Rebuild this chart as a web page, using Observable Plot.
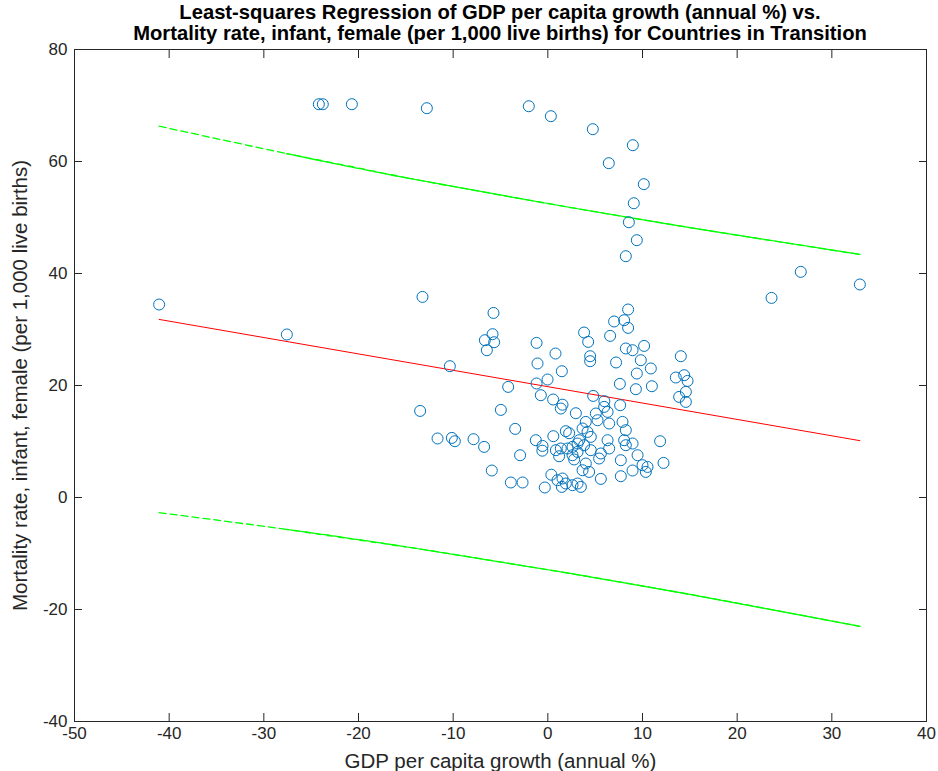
<!DOCTYPE html>
<html>
<head>
<meta charset="utf-8">
<script src="https://cdn.jsdelivr.net/npm/d3@7"></script>
<script src="https://cdn.jsdelivr.net/npm/@observablehq/plot@0.6"></script>
<style>
  body { margin: 0; background: #fff; font-family: "Liberation Sans", Arial, sans-serif; }
  #title { width: 938px; height: 40px; box-sizing: border-box; padding: 2px 12px 0 74px;
           text-align: center; font-weight: bold; font-size: 20.2px; line-height: 21px; color: #000; white-space: nowrap; }
  #chart { position: relative; }
</style>
</head>
<body>
<div id="title">Least-squares Regression of GDP per capita growth (annual %) vs.<br>Mortality rate, infant, female (per 1,000 live births) for Countries in Transition</div>
<div id="chart"></div>
<script>
// Scatter data: GDP per capita growth (annual %) vs infant female mortality (per 1,000)
const gdpGrowth = [
  -24.19, -23.77, -20.70, -12.78, -2.01, 0.32, 4.75, 8.98, 6.44, 10.14, 9.08, 8.56, 9.40, 8.24,
  23.63, 26.72, 32.96,
  -41.06, -27.57, -13.24, -10.35, -13.49, -11.65, -10.14, -9.82, -7.85, -6.73, -5.92, -5.74, -5.84, -6.65, -5.67, -6.44, -4.96, -4.19, -3.91, -3.45, -2.93, -2.67,
  -1.19, -1.09, -1.19, -0.74, -1.27, -0.56, -0.58, -0.32, -0.03, 0.56, 0.58, 0.37, 0.81, 0.85, 1.19, 1.02, 1.37, 1.48, 1.55, 1.37, 1.55, 1.48,
  1.90, 2.25, 1.90, 2.08, 2.61, 2.61, 2.61, 2.78, 2.96, 3.14, 3.14, 3.14, 3.31, 3.49, 3.67, 3.67, 3.83, 3.83, 4.01, 4.01, 4.19, 4.26, 4.36,
  4.47, 4.47, 4.54, 4.54, 4.79, 5.07, 5.25, 5.42, 5.60, 5.60, 5.97, 5.95, 6.31, 6.31, 6.48, 6.48, 6.58, 7.00, 7.21, 7.61, 7.64, 7.71, 7.71,
  7.89, 8.06, 8.06, 8.24, 8.24, 8.24, 8.48, 8.48, 8.95, 8.95, 8.95, 9.30, 9.40, 9.48, 9.82, 10.00, 10.17, 10.53, 10.35, 10.88, 10.99, 11.86,
  12.22, 14.05, 13.52, 14.40, 14.76, 14.58, 13.87, 14.58
];
const infantMortality = [
  70.23, 70.23, 70.23, 69.52, 69.87, 68.09, 65.77, 62.91, 59.70, 55.95, 52.55, 49.16, 45.95, 43.09,
  35.64, 40.29, 38.04,
  34.46, 29.11, 35.82, 23.45, 15.46, 10.54, 10.64, 10.05, 10.41, 9.04, 4.82, 32.96, 29.16, 28.09, 27.73, 26.30, 15.64, 19.75, 2.68, 12.25, 7.55, 2.68,
  27.61, 23.93, 20.36, 18.27, 10.23, 9.21, 8.36, 1.79, 21.07, 17.50, 10.95, 4.07, 25.71, 8.45, 7.37, 3.09, 8.75, 22.55, 16.57, 15.89, 3.39, 1.89,
  11.84, 11.48, 2.50, 8.75, 9.04, 7.55, 2.20, 6.79, 15.05, 9.64, 8.14, 2.50, 10.23, 1.89, 12.32, 4.87, 29.46, 9.34, 13.50, 6.07, 11.71, 27.79, 4.57,
  25.23, 24.34, 10.82, 8.45, 18.14, 15.00, 13.80, 6.96, 7.86, 3.32, 17.20, 16.18, 15.29, 10.23, 13.21, 8.75, 28.86, 31.43, 24.11, 20.29, 16.48, 6.66, 3.80,
  13.50, 31.66, 10.23, 26.61, 12.02, 9.34, 33.57, 30.29, 26.30, 9.64, 4.82, 19.34, 22.14, 7.55, 24.52, 5.77, 27.07, 5.46, 4.57, 23.04, 19.87, 10.05,
  6.18, 25.23, 21.43, 21.84, 20.82, 18.86, 17.96, 17.07
];

// Least-squares fit line
const fitX = [-41.06, 32.96];
const fitY = [31.8, 10.15];

// Prediction bounds
const boundX = [-41.06, -27.57, -15, 0, 15, 32.96];
const upperBound = [66.3, 61.4, 57.1, 52.5, 48.2, 43.4];
const lowerBound = [-2.7, -5.7, -8.8, -12.9, -17.3, -23.0];

// Axis ticks
const xTicks = [-50, -40, -30, -20, -10, 0, 10, 20, 30, 40];
const yTicks = [-40, -20, 0, 20, 40, 60, 80];

const xLabel = "GDP per capita growth (annual %)";
const yLabel = "Mortality rate, infant, female (per 1,000 live births)";

const points = gdpGrowth.map((x, i) => ({x, y: infantMortality[i]}));
const fit = fitX.map((x, i) => ({x, y: fitY[i]}));
const band = boundX.map((x, i) => ({x, upper: upperBound[i], lower: lowerBound[i]}));

const ink = "#262626";
const green = "#00FF00";
const fmt = d => String(d);
const blank = () => "";

const chart = Plot.plot({
  width: 938,
  height: 731,
  marginTop: 9,
  marginBottom: 50,
  marginLeft: 74,
  marginRight: 12,
  style: {background: "transparent", fontFamily: "'Liberation Sans', Arial, sans-serif", color: ink},
  x: {domain: [-50, 40], label: null},
  y: {domain: [-40, 80], label: null},
  marks: [
    // inward ticks on all four sides
    Plot.axisX(xTicks, {anchor: "bottom", tickSize: 8, dy: -8, tickFormat: blank, label: null}),
    Plot.axisX(xTicks, {anchor: "top", tickSize: 8, dy: 8, tickFormat: blank, label: null}),
    Plot.axisY(yTicks, {anchor: "left", tickSize: 8, dx: 8, tickFormat: blank, label: null}),
    Plot.axisY(yTicks, {anchor: "right", tickSize: 8, dx: -8, tickFormat: blank, label: null}),
    // tick labels
    Plot.axisX(xTicks, {anchor: "bottom", tickSize: 0, tickPadding: 5, tickFormat: fmt, fontSize: 17, label: null}),
    Plot.axisY(yTicks, {anchor: "left", tickSize: 0, tickPadding: 7, tickFormat: fmt, fontSize: 17, label: null}),
    // axis titles
    Plot.text([xLabel], {text: d => d, frameAnchor: "bottom", dy: 40, fontSize: 20.5, textAnchor: "middle", lineAnchor: "middle"}),
    Plot.text([yLabel], {text: d => d, frameAnchor: "left", dx: -54, rotate: -90, fontSize: 20.5, textAnchor: "middle", lineAnchor: "middle"}),
    Plot.frame({stroke: ink, strokeWidth: 1}),
    // prediction bounds: dashed, becoming dense/solid where data are crowded
    Plot.line(band, {x: "x", y: "upper", stroke: green, strokeWidth: 1.3, strokeDasharray: "7,4", curve: "natural"}),
    Plot.line(band, {x: "x", y: "lower", stroke: green, strokeWidth: 1.3, strokeDasharray: "7,4", curve: "natural"}),
    Plot.line(band, {filter: d => d.x >= -27.6 && d.x <= -15, x: "x", y: "upper", stroke: green, strokeWidth: 1.6, strokeDasharray: "5,6", strokeDashoffset: 3}),
    Plot.line(band, {filter: d => d.x >= -27.6 && d.x <= -15, x: "x", y: "lower", stroke: green, strokeWidth: 1.6, strokeDasharray: "5,6", strokeDashoffset: 3}),
    Plot.line(band, {filter: d => d.x >= -15, x: "x", y: "upper", stroke: green, strokeWidth: 1.2, curve: "natural"}),
    Plot.line(band, {filter: d => d.x >= -15, x: "x", y: "lower", stroke: green, strokeWidth: 1.2, curve: "natural"}),
    // fit line
    Plot.line(fit, {x: "x", y: "y", stroke: "#FF0000", strokeWidth: 1}),
    // data
    Plot.dot(points, {x: "x", y: "y", r: 5.5, stroke: "#0072BD", fill: "none", strokeWidth: 1})
  ]
});
document.getElementById("chart").append(chart);
</script>
</body>
</html>
